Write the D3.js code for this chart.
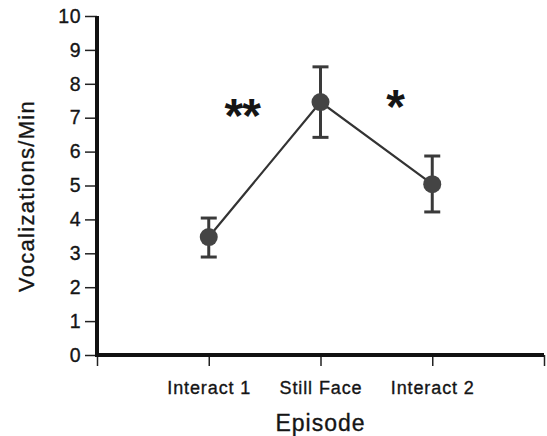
<!DOCTYPE html>
<html>
<head>
<meta charset="utf-8">
<script src="https://cdn.jsdelivr.net/npm/d3@7"></script>
<style>
  body { margin: 0; background: #fff; }
  svg text { font-family: "Liberation Sans", Arial, sans-serif; fill: #151515; }
  svg text.lbl { stroke: #151515; stroke-width: 0.35px; }
</style>
</head>
<body>
<div id="container"></div>
<script>
const episodes = ["Interact 1", "Still Face", "Interact 2"];
const means = [3.48, 7.46, 5.04];
const upper = [4.04, 8.5, 5.87];
const lower = [2.89, 6.42, 4.22];
const yTicks = [0, 1, 2, 3, 4, 5, 6, 7, 8, 9, 10];
const starLabels = ["**", "*"];
const starPos = [1.3, 2.667];
const starValues = [7.35, 7.61];

const W = 547, H = 436;
const margin = { top: 16, right: 3, bottom: 81, left: 97 };
const w = W - margin.left - margin.right;
const h = H - margin.top - margin.bottom;

const svg = d3.select("#container").append("svg")
  .attr("width", W).attr("height", H);
const g = svg.append("g")
  .attr("transform", `translate(${margin.left},${margin.top})`);

const xScale = d3.scaleLinear().domain([0, 4]).range([0, w]);
const yScale = d3.scaleLinear().domain([0, 10]).range([h, 0]);

// y axis
const yAxis = g.append("g")
  .call(d3.axisLeft(yScale).tickValues(yTicks).tickSize(12).tickPadding(4).tickSizeOuter(0));
yAxis.select(".domain").remove();
yAxis.selectAll(".tick line").attr("stroke", "#222").attr("stroke-width", 1.5);
yAxis.selectAll(".tick text")
  .attr("class", "lbl")
  .style("font-size", "19.5px")
  .style("letter-spacing", "0.5px");

// x axis
const xAxis = g.append("g")
  .attr("transform", `translate(0,${h})`)
  .call(d3.axisBottom(xScale).tickValues([0, 1, 2, 3, 4]).tickSize(11).tickPadding(15)
    .tickFormat(d => episodes[d - 1] || ""));
xAxis.select(".domain").remove();
xAxis.selectAll(".tick line").attr("stroke", "#222").attr("stroke-width", 1.5);
xAxis.selectAll(".tick text")
  .attr("class", "lbl")
  .style("font-size", "18px")
  .style("letter-spacing", "0.9px");

// heavy axis lines
g.append("line")
  .attr("x1", 0).attr("x2", 0).attr("y1", 0).attr("y2", h + 2)
  .attr("stroke", "#111").attr("stroke-width", 4);
g.append("line")
  .attr("x1", -2).attr("x2", w).attr("y1", h).attr("y2", h)
  .attr("stroke", "#111").attr("stroke-width", 4);

const pts = episodes.map((e, i) => ({ x: i + 1, m: means[i], hi: upper[i], lo: lower[i] }));

// connecting line
g.append("path")
  .datum(pts)
  .attr("fill", "none")
  .attr("stroke", "#333")
  .attr("stroke-width", 2.2)
  .attr("d", d3.line().x(d => xScale(d.x)).y(d => yScale(d.m)));

// error bars
const eb = g.selectAll(".err").data(pts).join("g").attr("class", "err")
  .attr("stroke", "#3a3a3a").attr("stroke-width", 3);
eb.append("line")
  .attr("x1", d => xScale(d.x)).attr("x2", d => xScale(d.x))
  .attr("y1", d => yScale(d.hi)).attr("y2", d => yScale(d.lo));
eb.append("line")
  .attr("x1", d => xScale(d.x) - 8).attr("x2", d => xScale(d.x) + 8)
  .attr("y1", d => yScale(d.hi)).attr("y2", d => yScale(d.hi));
eb.append("line")
  .attr("x1", d => xScale(d.x) - 8).attr("x2", d => xScale(d.x) + 8)
  .attr("y1", d => yScale(d.lo)).attr("y2", d => yScale(d.lo));

// markers
g.selectAll(".pt").data(pts).join("circle")
  .attr("class", "pt")
  .attr("cx", d => xScale(d.x)).attr("cy", d => yScale(d.m))
  .attr("r", 9)
  .attr("fill", "#444");

// significance stars
g.selectAll(".star").data(starLabels).join("text")
  .attr("class", "star")
  .attr("x", (d, i) => xScale(starPos[i]))
  .attr("y", (d, i) => yScale(starValues[i]))
  .attr("dy", "0.55em")
  .attr("text-anchor", "middle")
  .style("font-size", "48px")
  .style("font-weight", "bold")
  .style("letter-spacing", "-1px")
  .text(d => d);

// axis titles
svg.append("text")
  .attr("class", "lbl")
  .attr("transform", `translate(34,196) rotate(-90)`)
  .attr("text-anchor", "middle")
  .style("font-size", "22px")
  .style("letter-spacing", "1.3px")
  .text("Vocalizations/Min");

svg.append("text")
  .attr("class", "lbl")
  .attr("x", margin.left + xScale(2)).attr("y", 431)
  .attr("text-anchor", "middle")
  .style("font-size", "23px")
  .style("letter-spacing", "1px")
  .text("Episode");
</script>
</body>
</html>
